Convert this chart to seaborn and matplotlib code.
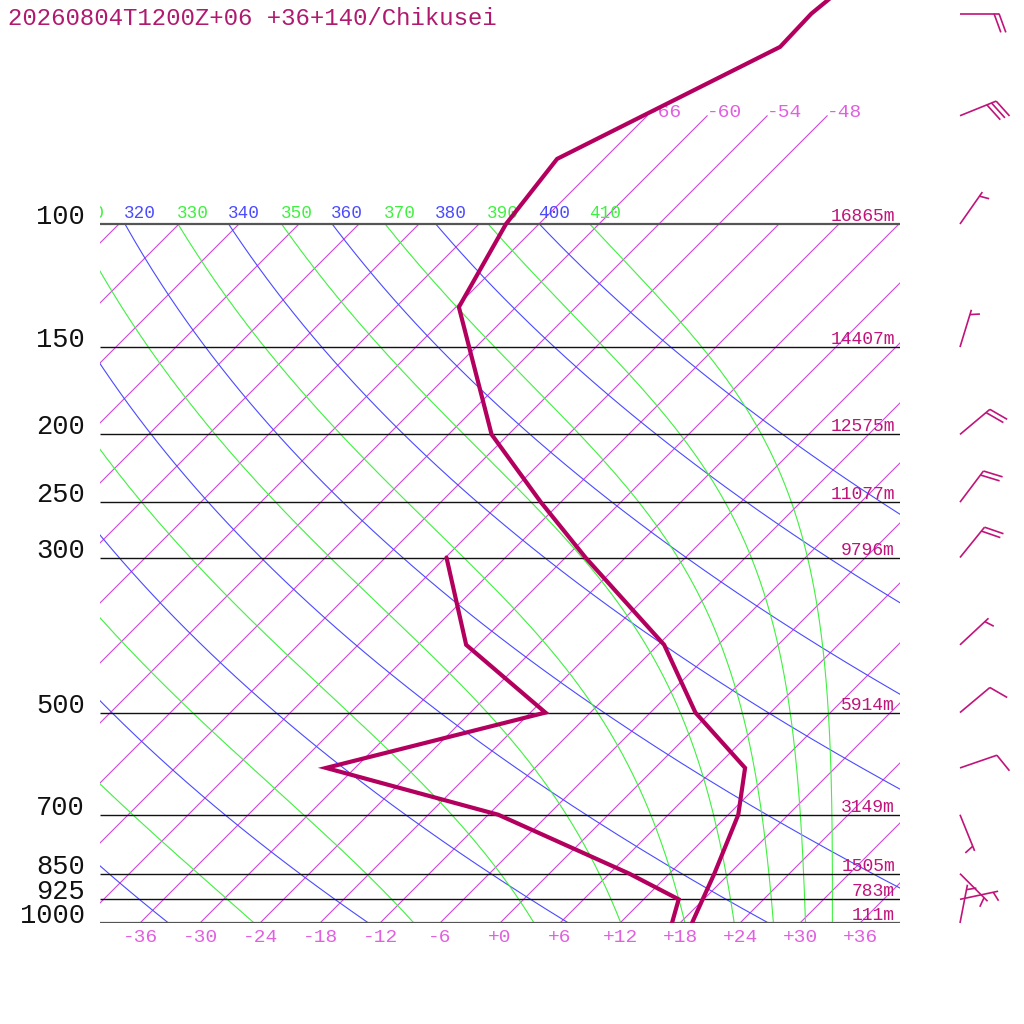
import numpy as np
import pandas as pd
import matplotlib
matplotlib.use("Agg")
import matplotlib.pyplot as plt
import matplotlib.transforms as mtransforms
from matplotlib.collections import LineCollection
from matplotlib.ticker import NullLocator
import seaborn as sns

# ---------------- data ----------------
TITLE = "20260804T1200Z+06 +36+140/Chikusei"

T_PRES = [1000, 925, 850, 700, 600, 500, 400, 300, 250, 200, 131.5, 100, 80.7, 55.8, 50, 40]
T_VALS = [19.2, 17.9, 16.5, 13.0, 9.0, -1.5, -11.4, -28.0, -38.0, -49.7, -65.7, -69.3, -70.7, -59.6, -59.8, -58.3]

TD_PRES = [1000, 925, 850, 700, 600, 500, 400, 300]
TD_VALS = [17.2, 15.5, 8.0, -11.0, -32.9, -16.5, -31.2, -41.9]

LEVELS = [100, 150, 200, 250, 300, 500, 700, 850, 925, 1000]
LEVEL_LABELS = ["100", "150", "200", "250", "300", "500", "700", "850", "925", "1000"]
HEIGHTS = ["16865m", "14407m", "12575m", "11077m", "9796m", "5914m", "3149m", "1505m", "783m", "111m"]

W_PRES = [50, 70, 100, 150, 200, 250, 300, 400, 500, 600, 700, 850, 925, 1000]
W_DIR = [90, 68, 35, 17, 50, 37, 39, 47, 50, 71, 158, 135, 78, 11]
W_SPD = [20, 30, 5, 5, 20, 20, 20, 5, 10, 10, 5, 5, 5, 5]

THETA = [240, 260, 280, 300, 320, 340, 360, 380, 400]          # dry adiabats (K)
THETA_E = [250, 270, 290, 310, 330, 350, 370, 390, 410]        # pseudo adiabats (K)
THETA_LABELS = [310, 320, 330, 340, 350, 360, 370, 380, 390, 400, 410]
ISOTHERMS = list(range(-108, 37, 6))
ISO_TOP = [-66, -60, -54, -48]
XTICKS = list(range(-36, 37, 6))

# ---------------- colours ----------------
C_PROF = "#b3005e"
C_TEXT = "#c0147a"
C_ISO = "#d046e0"
C_ISO_TXT = "#e060e0"
C_DRY = "#4a4aff"
C_MOIST = "#40f040"

# ---------------- figure ----------------
sns.set_style("white")
plt.rcParams['font.family'] = ['Liberation Mono', 'DejaVu Sans Mono']

fig = plt.figure(figsize=(10.24, 10.24), dpi=100)
ax = fig.add_axes([100 / 1024, 101 / 1024, 800 / 1024, 923 / 1024])
ax.set_yscale('log')
P_TOP = 1000 * 10 ** (-923 / 699)
ax.set_xlim(-40, 40)
ax.set_ylim(1000, P_TOP)
ax.autoscale(False)
for s in ax.spines.values():
    s.set_visible(False)

# 45 degree skew in display space
skew = (ax.transData + ax.transAxes.inverted()
        + mtransforms.Affine2D(np.array([[1, 923 / 800, 0], [0, 1, 0], [0, 0, 1]]))
        + ax.transAxes)
base = mtransforms.blended_transform_factory(ax.transAxes, ax.transData)

P_GRID = np.logspace(3, 2, 240)


def theta_e_sat(Tc, p):
    T = Tc + 273.15
    es = 6.112 * np.exp(17.67 * Tc / (Tc + 243.5))
    es = np.minimum(es, 0.5 * p)
    r = 622.0 * es / (p - es)
    th = T * (1000.0 / p) ** (0.2854 * (1 - 0.00028 * r))
    return th * np.exp((3.376 / T - 0.00254) * r * (1 + 0.00081 * r))


def moist_T(the, pres):
    lo = np.full_like(pres, -150.0)
    hi = np.full_like(pres, 45.0)
    for _ in range(60):
        mid = 0.5 * (lo + hi)
        f = theta_e_sat(mid, pres) > the
        hi = np.where(f, mid, hi)
        lo = np.where(f, lo, mid)
    return 0.5 * (lo + hi)


# isotherms
for t in ISOTHERMS:
    ptop = 70 if t in ISO_TOP else 100
    ax.plot([t, t], [1000, ptop], color=C_ISO, lw=0.8, transform=skew, zorder=1)
for t in ISO_TOP:
    ax.annotate(f"{t:d}", xy=(t, 70), xycoords=skew, xytext=(0, -1),
                textcoords='offset pixels', ha='left', va='baseline',
                color=C_ISO_TXT, fontsize=14, annotation_clip=False)

# dry adiabats
for th in THETA:
    tt = th * (P_GRID / 1000.0) ** 0.2857 - 273.15
    ax.plot(tt, P_GRID, color=C_DRY, lw=0.8, transform=skew, zorder=1)

# pseudo adiabats
moist_100 = {}
for the in THETA_E:
    tt = moist_T(the, P_GRID)
    moist_100[the] = tt[-1]
    ax.plot(tt, P_GRID, color=C_MOIST, lw=0.8, transform=skew, zorder=1)

# adiabat labels at 100 hPa
for th in THETA_LABELS:
    if th % 20 == 0:
        t100 = th * 0.1 ** 0.2857 - 273.15
        col = C_DRY
    else:
        t100 = moist_100.get(th, th * 0.1 ** 0.2857 - 273.15)
        col = C_MOIST
    txt = ax.annotate(str(th), xy=(t100, 100), xycoords=skew, xytext=(-1, 6),
                      textcoords='offset pixels', ha='left', va='baseline',
                      color=col, fontsize=12.7, annotation_clip=False)
    txt.set_clip_on(True)
    txt.set_clip_box(ax.bbox)

# pressure lines
for p in LEVELS:
    if p in (100, 1000):
        ax.hlines(p, -40, 40, color="#555555", lw=1.6, zorder=2)
    else:
        ax.hlines(p, -40, 40, color="#111111", lw=1.0, zorder=2)

# profiles (seaborn)
df_t = pd.DataFrame({"T": T_VALS, "p": T_PRES})
df_td = pd.DataFrame({"Td": TD_VALS, "p": TD_PRES})
sns.lineplot(data=df_t, x="T", y="p", sort=False, estimator=None, color=C_PROF,
             lw=3.0, transform=skew, ax=ax, zorder=5, solid_joinstyle='miter')
sns.lineplot(data=df_td, x="Td", y="p", sort=False, estimator=None, color=C_PROF,
             lw=3.0, transform=skew, ax=ax, zorder=5, solid_joinstyle='miter')

ax.set_xlim(-40, 40)
ax.set_ylim(1000, P_TOP)
ax.set_xlabel("")
ax.set_ylabel("")
ax.yaxis.set_major_locator(NullLocator())
ax.yaxis.set_minor_locator(NullLocator())
ax.set_xticks(XTICKS)
ax.set_xticklabels([f"{t:+d}" for t in XTICKS])
ax.tick_params(axis='x', length=0, pad=4.5, labelsize=14, labelcolor=C_ISO_TXT)
ax.grid(False)

# pressure labels and heights
for p, lab, h in zip(LEVELS, LEVEL_LABELS, HEIGHTS):
    ax.annotate(lab, xy=((85 - 100) / 800, p), xycoords=base, ha='right', va='baseline',
                color="#111111", fontsize=19.5, annotation_clip=False)
    ax.annotate(h, xy=((895 - 100) / 800, p), xycoords=base, xytext=(0, 3),
                textcoords='offset pixels', ha='right', va='baseline',
                color=C_TEXT, fontsize=13, annotation_clip=False)


# wind barbs
def barb_segments(direction, speed, L=39.0, full=20.0, half=10.0, gap=5.0, ang=70.0):
    r = np.deg2rad(direction)
    s = np.array([np.sin(r), -np.cos(r)])
    a = np.deg2rad(ang)
    b = np.array([s[0] * np.cos(a) - s[1] * np.sin(a), s[0] * np.sin(a) + s[1] * np.cos(a)])
    segs = [[(0.0, 0.0), tuple(L * s)]]
    nfull = speed // 10
    nhalf = (speed % 10) // 5
    pos = L
    for _ in range(nfull):
        p0 = pos * s
        segs.append([tuple(p0), tuple(p0 + full * b)])
        pos -= gap
    if nhalf:
        if nfull == 0:
            pos -= gap
        p0 = pos * s
        segs.append([tuple(p0), tuple(p0 + half * b)])
    return segs


XB = (960 - 100) / 800
for p, d, sp in zip(W_PRES, W_DIR, W_SPD):
    tr = mtransforms.Affine2D().scale(1, -1) + mtransforms.ScaledTranslation(XB, p, base)
    lc = LineCollection(barb_segments(d, sp), colors=C_TEXT, linewidths=1.2,
                        transform=tr, clip_on=False, zorder=6)
    ax.add_collection(lc, autolim=False)

fig.text(8 / 1024, 1 - 25 / 1024, TITLE, color="#b01a6e", fontsize=17.3,
         ha='left', va='baseline')

fig.savefig("out.png", dpi=100)
